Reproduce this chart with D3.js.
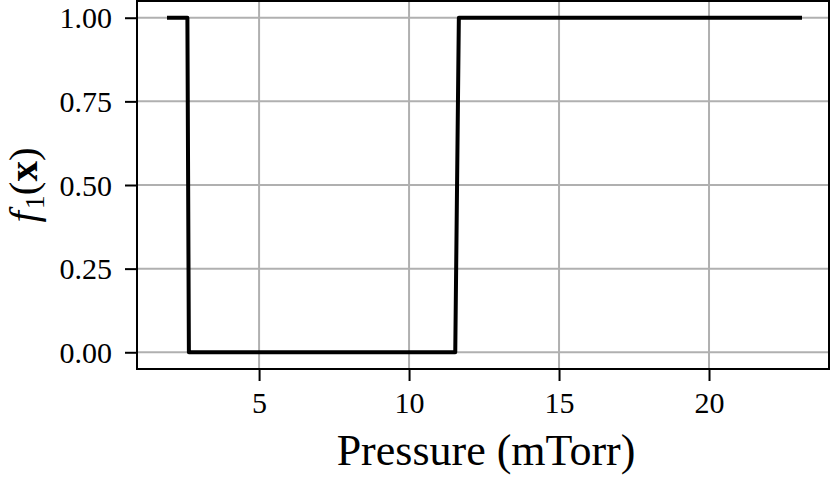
<!DOCTYPE html>
<html>
<head>
<meta charset="utf-8">
<script src="https://cdn.jsdelivr.net/npm/d3@7"></script>
<style>
  body { margin: 0; background: #fff; }
  svg text { font-family: "Liberation Serif", "DejaVu Serif", serif; fill: #000; }
</style>
</head>
<body>
<div id="chart"></div>
<script>
const pressure = [1.93, 2.61, 2.66, 11.54, 11.66, 23.1];
const f1 = [1, 1, 0, 0, 1, 1];
const xDomain = [0.93, 24.0];
const yDomain = [-0.05, 1.05];
const xTicks = [5, 10, 15, 20];
const yTicks = [0, 0.25, 0.5, 0.75, 1.0];

const W = 831, H = 477;
const margin = { top: 1, right: 2, bottom: 108, left: 137 };
const width = W - margin.left - margin.right;
const height = H - margin.top - margin.bottom;

const data = pressure.map((p, i) => ({ p, v: f1[i] }));

const svg = d3.select("#chart")
  .append("svg")
  .attr("width", W)
  .attr("height", H)
  .append("g")
  .attr("transform", `translate(${margin.left},${margin.top})`);

const x = d3.scaleLinear().domain(xDomain).range([0, width]);
const y = d3.scaleLinear().domain(yDomain).range([height, 0]);

// grid
svg.append("g")
  .selectAll("line")
  .data(xTicks)
  .join("line")
  .attr("x1", d => x(d)).attr("x2", d => x(d))
  .attr("y1", 0).attr("y2", height)
  .attr("stroke", "#b0b0b0").attr("stroke-width", 2);

svg.append("g")
  .selectAll("line")
  .data(yTicks)
  .join("line")
  .attr("y1", d => y(d)).attr("y2", d => y(d))
  .attr("x1", 0).attr("x2", width)
  .attr("stroke", "#b0b0b0").attr("stroke-width", 2);

// line
const line = d3.line().x(d => x(d.p)).y(d => y(d.v));
svg.append("path")
  .datum(data)
  .attr("d", line)
  .attr("fill", "none")
  .attr("stroke", "#000")
  .attr("stroke-width", 4)
  .attr("stroke-linejoin", "round");

// axes
const xAxis = svg.append("g")
  .attr("transform", `translate(0,${height})`)
  .call(d3.axisBottom(x).tickValues(xTicks).tickSize(12).tickPadding(11).tickFormat(d3.format("d")));
const yAxis = svg.append("g")
  .call(d3.axisLeft(y).tickValues(yTicks).tickSize(12).tickPadding(13).tickFormat(d3.format(".2f")));

[xAxis, yAxis].forEach(a => {
  a.select(".domain").remove();
  a.selectAll(".tick line").attr("stroke", "#000").attr("stroke-width", 2);
  a.selectAll(".tick text").style("font-size", "30px").attr("fill", "#000");
});
yAxis.selectAll(".tick text").attr("dy", "0.34em");

// frame
svg.append("rect")
  .attr("x", 0).attr("y", 0)
  .attr("width", width).attr("height", height)
  .attr("fill", "none")
  .attr("stroke", "#000")
  .attr("stroke-width", 2);

// labels
svg.append("text")
  .attr("x", width / 2 + 3)
  .attr("y", height + 96)
  .attr("text-anchor", "middle")
  .style("font-size", "44px")
  .text("Pressure (mTorr)");

const yl = svg.append("text")
  .attr("transform", `translate(${-100},${height / 2}) rotate(-90)`)
  .attr("text-anchor", "middle")
  .style("font-size", "41px");
yl.append("tspan").style("font-style", "italic").text("f");
yl.append("tspan").attr("dy", 7).attr("dx", 2).style("font-size", "28px").text("1");
yl.append("tspan").attr("dy", -7).text("(");
yl.append("tspan").style("font-weight", "bold").text("x");
yl.append("tspan").text(")");
</script>
</body>
</html>
